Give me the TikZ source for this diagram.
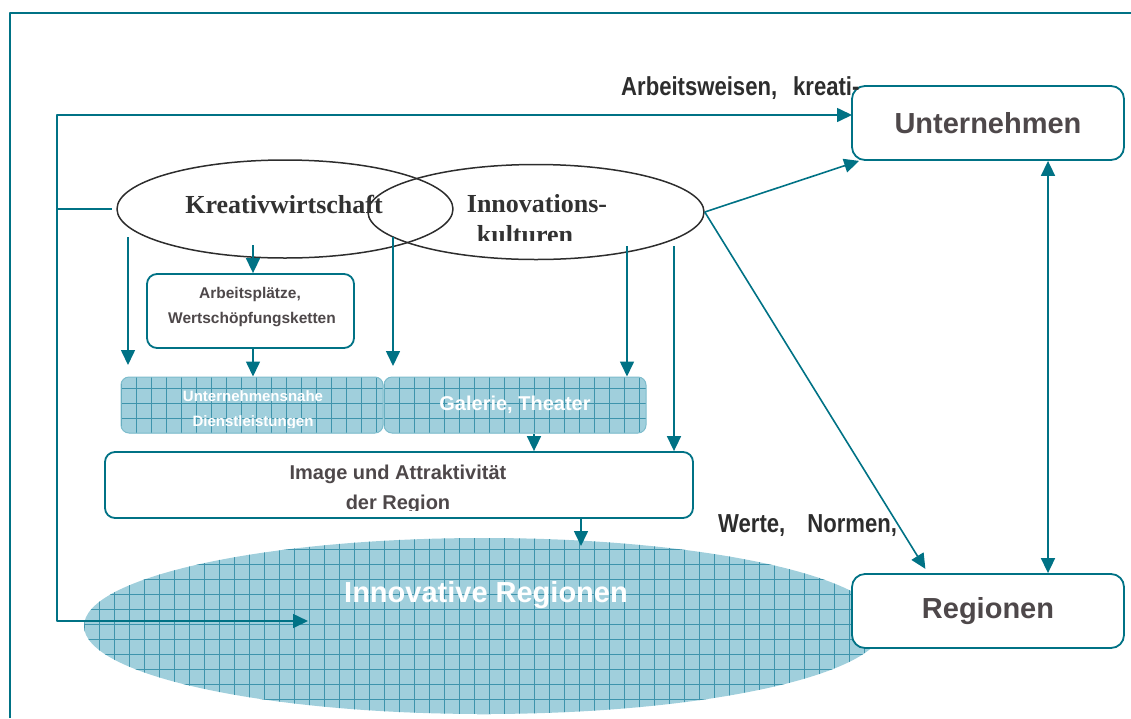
\documentclass[tikz,border=0pt]{standalone}
\usepackage{fontspec}
\setmainfont{Liberation Sans}
\newfontfamily\serifbf{Liberation Serif}
\newfontfamily\narrowsans[FakeStretch=0.85]{Liberation Sans}
\usetikzlibrary{arrows.meta,shapes.geometric}
\definecolor{teal1}{RGB}{0,114,133}
\definecolor{gridbg}{RGB}{160,207,220}
\definecolor{gridln}{RGB}{62,148,172}
\definecolor{gridedge}{RGB}{125,188,204}
\definecolor{boxtxt}{RGB}{78,72,74}
\definecolor{elltxt}{RGB}{50,50,50}
\definecolor{elldraw}{RGB}{45,45,45}
\definecolor{labtxt}{RGB}{45,45,45}
\tikzset{
 conn/.style={draw=teal1, line width=1.6pt},
 arr/.style={conn, -{Triangle[length=15pt,width=14pt]}},
 darr/.style={conn, {Triangle[length=15pt,width=14pt]}-{Triangle[length=15pt,width=14pt]}},
 rbox/.style={draw=teal1, line width=1.8pt, rounded corners=10pt, fill=white, inner sep=0pt, align=center, text=boxtxt},
 bigbox/.style={rbox, rounded corners=13pt, minimum width=272pt, minimum height=74pt, font=\bfseries\fontsize{29}{34}\selectfont},
 ell/.style={ellipse, draw=elldraw, line width=1.5pt, inner sep=0pt},
 elltext/.style={text=elltxt, font=\serifbf\bfseries\fontsize{26}{30}\selectfont, inner sep=0pt},
 gridfill/.style={fill=gridbg, path picture={
   \foreach \k in {0,...,60}{
     \draw[gridln, line width=0.55pt] ([xshift=\k*15pt]path picture bounding box.south west) -- ([xshift=\k*15pt]path picture bounding box.north west);
     \draw[gridln, line width=0.55pt] ([yshift=\k*15pt]path picture bounding box.south west) -- ([yshift=\k*15pt]path picture bounding box.south east);
   }}},
 gbox/.style={gridfill, draw=gridedge, line width=1pt, rounded corners=8pt, minimum width=262pt, minimum height=56pt, inner sep=0pt},
 wtext/.style={text=white, inner sep=0pt},
 btext/.style={text=boxtxt, inner sep=0pt},
 flowlabel/.style={text=labtxt, font=\narrowsans\bfseries\fontsize{26}{30}\selectfont, inner sep=0pt},
}
\begin{document}
\begin{tikzpicture}[x=1pt,y=-1pt,line join=round]
\useasboundingbox (0,0) rectangle (1131,718);
% frame
\draw[teal1, line width=1.5pt] (10,718) -- (10,13) -- (1131,13);

% big grid ellipse
\node[ellipse, gridfill, minimum width=800pt, minimum height=176pt, inner sep=0pt] (ir) at (484,626) {};
\node[wtext, font=\bfseries\fontsize{29}{34}\selectfont, anchor=base] (irt) at (486,602) {Innovative Regionen};

% right boxes
\node[bigbox] (unt) at (988,123) {Unternehmen};
\node[bigbox] (reg) at (988,611) {Regionen};

% ellipses
\node[ell, minimum width=336pt, minimum height=98pt] (kw) at (285,209) {};
\node[ell, minimum width=336pt, minimum height=95pt] (ik) at (536,212) {};
\node[elltext, anchor=base] (kwt) at (284,213) {Kreativwirtschaft};
\node[elltext, anchor=base] (ikt) at (537,212) {Innovations-};
\begin{scope}
 \clip (430,215) rectangle (650,240);
 \node[elltext, anchor=base] (ikt2) at (525,243) {kulturen};
\end{scope}

% boxes
\node[rbox, minimum width=207pt, minimum height=74pt] (ap) at (250.5,311) {};
\node[btext, font=\bfseries\fontsize{15.5}{18}\selectfont, anchor=base] (apt1) at (250,298) {Arbeitsplätze,};
\node[btext, font=\bfseries\fontsize{15.5}{18}\selectfont, anchor=base] (apt2) at (252,323) {Wertschöpfungsketten};

\node[gbox] (ud) at (252,405) {};
\node[gbox] (gt) at (515,405) {};
\node[wtext, font=\bfseries\fontsize{15}{18}\selectfont, anchor=base] (udt1) at (253,401) {Unternehmensnahe};
\begin{scope}
 \clip (121,405) rectangle (383,427);
 \node[wtext, font=\bfseries\fontsize{15}{18}\selectfont, anchor=base] (udt2) at (253,426) {Dienstleistungen};
\end{scope}
\node[wtext, font=\bfseries\fontsize{20}{24}\selectfont, anchor=base] (gtt) at (515,410) {Galerie, Theater};

\node[rbox, minimum width=588pt, minimum height=66pt] (img) at (399,485) {};
\node[btext, font=\bfseries\fontsize{20}{24}\selectfont, anchor=base] (imgt1) at (398,479) {Image und Attraktivität};
\begin{scope}
 \clip (110,485) rectangle (690,510);
 \node[btext, font=\bfseries\fontsize{20}{24}\selectfont, anchor=base] (imgt2) at (398,509) {der Region};
\end{scope}

% flow labels
\node[flowlabel, anchor=base west] (l1) at (621,95) {Arbeitsweisen,\hspace{16pt}kreati-};
\node[flowlabel, anchor=base west] (l2) at (718,532) {Werte,\hspace{22pt}Normen,};

% left spine
\coordinate (sp) at (57,209);
\coordinate (tU) at (852,115);
\coordinate (tR) at (308,621);
\draw[conn, shorten >=4pt] (sp) -- (kw.west);
\draw[arr] (sp) |- (tU);
\draw[arr] (sp) |- (tR);

% downward arrows
\coordinate (a1s) at (128,237);
\coordinate (a1e) at (128,365);
\draw[arr] (a1s) -- (a1e);
\coordinate (a2s) at (253,245);
\draw[arr] (a2s) -- (a2s |- ap.north);
\draw[arr] ([xshift=2.5pt]ap.south) -- ([xshift=2.5pt]ap.south |- ud.north);
\coordinate (a3s) at (393,237);
\coordinate (a3e) at (393,366);
\draw[arr] (a3s) -- (a3e);
\coordinate (a4s) at (627,246);
\draw[arr] (a4s) -- (a4s |- gt.north);
\coordinate (a5s) at (674,246);
\draw[arr] (a5s) -- (a5s |- img.north);
\draw[arr] ([xshift=19pt]gt.south) -- ([xshift=19pt]gt.south |- img.north);
\coordinate (a7e) at (581,546);
\draw[arr] ([xshift=182pt]img.south) -- (a7e);

% right arrows
\draw[arr] (ik.east) -- ([xshift=8pt]unt.south west);
\draw[arr, shorten >=5pt] (ik.east) -- ([xshift=-60pt]reg.north);
\draw[darr] ([xshift=60pt]unt.south) -- ([xshift=60pt]reg.north);
\end{tikzpicture}
\end{document}
